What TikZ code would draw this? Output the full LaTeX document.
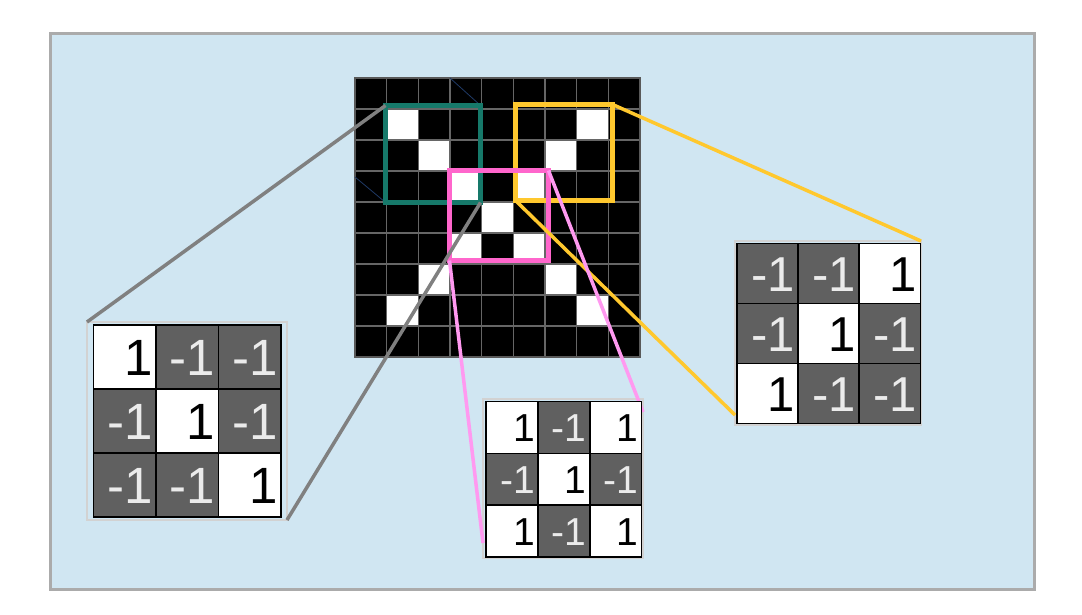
\documentclass[tikz,border=0pt]{standalone}
\usepackage{fontspec}
\setmainfont{Liberation Sans}
\definecolor{sfondo}{HTML}{D0E6F2}
\definecolor{bordo}{HTML}{ABABAB}
\definecolor{verde}{HTML}{16796A}
\definecolor{giallo}{HTML}{FFC82E}
\definecolor{rosa}{HTML}{FF66CC}
\definecolor{rosachiaro}{HTML}{FF99F0}
\definecolor{scuro}{HTML}{606060}
\definecolor{chiaro}{HTML}{EBEBEB}
\definecolor{blu}{HTML}{1F3A66}
\tikzset{
  cella/.style={draw=black, line width=1.5pt, anchor=north west, inner sep=0pt, outer sep=0pt},
  numero/.style={anchor=east, inner sep=0pt},
  cornice/.style={draw=gray!35, line width=1.2pt, anchor=north west, inner sep=0pt, outer sep=0pt},
  finestra/.style={line width=4.5pt, inner sep=0pt, outer sep=0pt},
  collega/.style={line width=3.5pt}
}
% nome, x, y, larghezza, altezza, corpo, valori
\newcommand{\matrice}[7]{%
  \foreach \v [count=\k from 0] in {#7} {
    \pgfmathtruncatemacro{\r}{div(\k,3)}
    \pgfmathtruncatemacro{\c}{mod(\k,3)}
    \ifnum\v=1 \def\fondo{white}\def\testo{black}\else \def\fondo{scuro}\def\testo{chiaro}\fi
    \node[cella, fill=\fondo, minimum width=#4, minimum height=#5] (#1-\r-\c) at (#2+\c*#4, #3+\r*#5) {};
    \node[numero, text=\testo, font=\fontsize{#6}{#6}\selectfont] at ([xshift=-3pt, yshift=-1pt]#1-\r-\c.east) {\v};
  }}
\begin{document}
\begin{tikzpicture}[x=1pt, y=-1pt]
  \useasboundingbox (0,0) rectangle (1082,614);
  %sfondo
  \draw[fill=sfondo, draw=bordo, line width=3pt] (50,33) rectangle (1034,589);
  %griglia
  \fill[black] (355,78) rectangle (640,357);
  \foreach \c/\r in {1/1,2/2,3/3,4/4,5/5,6/6,7/7,7/1,6/2,5/3,3/5,2/6,1/7}
    \fill[white] (355+\c*31.67, 78+\r*31) rectangle ++(31.67,31);
  \foreach \i in {1,...,8} {
    \draw[black!60, line width=1.4pt] (355+\i*31.67,78) -- (355+\i*31.67,357);
    \draw[black!60, line width=1.4pt] (355,78+\i*31) -- (640,78+\i*31);
  }
  \draw[black!65, line width=2pt] (355,78) rectangle (640,357);
  \draw[blu, line width=0.8pt] (450,78) -- (480,105);
  \draw[blu, line width=0.8pt] (355,177) -- (385,202);
  %finestre
  \node[finestra, draw=verde, minimum width=95, minimum height=97] (fverde) at (433,154) {};
  \node[finestra, draw=giallo, minimum width=97, minimum height=96] (fgiallo) at (564,152.5) {};
  \node[finestra, draw=rosa, minimum width=99, minimum height=90] (frosa) at (499,215.5) {};
  %matrici
  \node[cornice, minimum width=200, minimum height=198] (sinistra) at (87,322) {};
  \node[cornice, minimum width=160, minimum height=159] (centro) at (483,399) {};
  \node[cornice, minimum width=186, minimum height=184] (destra) at (735,241) {};
  %collegamenti
  \draw[collega, gray] (fverde.north west) -- (sinistra.north west);
  \draw[collega, gray] (fverde.south east) -- (sinistra.south east);
  \draw[collega, giallo] (fgiallo.north east) -- (destra.north east);
  \draw[collega, giallo] (fgiallo.south west) -- ([yshift=10pt]destra.south west);
  \draw[collega, rosachiaro] (frosa.south west) -- ([yshift=15pt]centro.south west);
  \draw[collega, rosachiaro] (frosa.north east) -- ([yshift=-13pt]centro.north east);
  \matrice{s}{93.3}{325}{62.6}{64}{51}{1,-1,-1,-1,1,-1,-1,-1,1}
  \matrice{c}{486}{401.7}{51.9}{51.7}{39}{1,-1,1,-1,1,-1,1,-1,1}
  \matrice{d}{737}{243.3}{61.1}{60}{49}{-1,-1,1,-1,1,-1,1,-1,-1}
\end{tikzpicture}
\end{document}
